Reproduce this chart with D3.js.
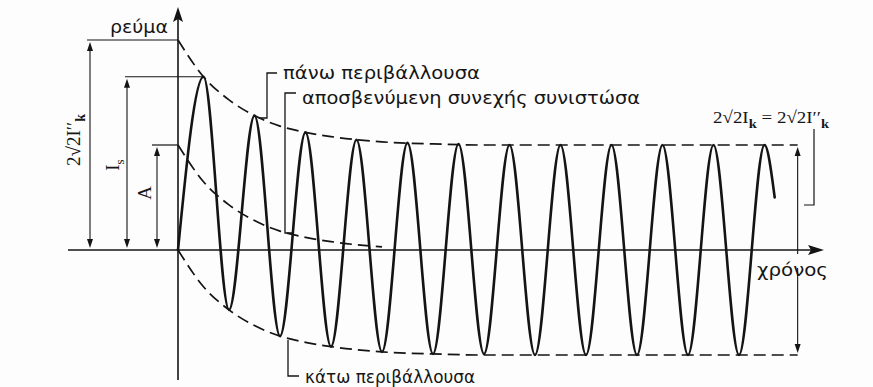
<!DOCTYPE html>
<html>
<head>
<meta charset="utf-8">
<script src="https://cdn.jsdelivr.net/npm/d3@7"></script>
<style>
  html, body { margin: 0; padding: 0; background: #fdfdfd; }
  svg { display: block; }
  text { fill: #161616; }
</style>
</head>
<body>
<svg id="chart" width="873" height="387"></svg>
<script>
// Short-circuit current: time in cycles of the mains period,
// current in units of the AC peak (sqrt2 * I''k = 1).

// Crests and troughs of the current trace
const crestTimes  = [0.5, 1.5, 2.5, 3.5, 4.5, 5.5, 6.5, 7.5, 8.5, 9.5, 10.5, 11.5];
const crestValues = [1.65, 1.28, 1.12, 1.05, 1.02, 1.01, 1.00, 1.00, 1.00, 1.00, 1.00, 1.00];
const troughTimes  = [0, 1, 2, 3, 4, 5, 6, 7, 8, 9, 10, 11];
const troughValues = [0.00, -0.57, -0.82, -0.92, -0.97, -0.99, -0.99, -1.00, -1.00, -1.00, -1.00, -1.00];
const traceEndTime = 11.7;
const traceEndValue = 0.50;

// Upper and lower envelopes
const envTimes  = [0, 0.5, 1, 1.5, 2, 2.5, 3, 4, 5, 6, 8, 10, 12.15];
const upperEnv  = [2.00, 1.65, 1.43, 1.28, 1.18, 1.12, 1.08, 1.03, 1.01, 1.00, 1.00, 1.00, 1.00];
const lowerEnv  = [0.00, -0.35, -0.57, -0.72, -0.82, -0.88, -0.92, -0.97, -0.99, -1.00, -1.00, -1.00, -1.00];

// Decaying DC component
const dcTimes  = [0, 0.5, 1, 1.5, 2, 2.5, 3, 3.5, 4];
const dcValues = [1.00, 0.65, 0.43, 0.28, 0.18, 0.12, 0.08, 0.05, 0.03];

// Marked magnitudes
const peakInitial = 2.00;   // 2*sqrt2*I''k
const peakSurge   = 1.65;   // Is
const dcInitial   = 1.00;   // A
const steadyPeak  = 1.00;   // sqrt2*Ik

const labels = {
  yAxis: "ρεύμα",
  xAxis: "χρόνος",
  upper: "πάνω περιβάλλουσα",
  dc: "αποσβενύμενη συνεχής συνιστώσα",
  lower: "κάτω περιβάλλουσα"
};

const svg = d3.select("#chart");
const ink = "#141414";

const x = d3.scaleLinear().domain([0, 12]).range([178, 790]);
const y = d3.scaleLinear().domain([-1, 2]).range([355, 40]);

const x0 = x(0), y0 = y(0);

// ---- axes ----
svg.append("line").attr("x1", 68).attr("x2", 815).attr("y1", y0).attr("y2", y0)
  .attr("stroke", ink).attr("stroke-width", 1.6);
svg.append("path").attr("d", `M824,${y0} L808,${y0 - 5} L811,${y0} L808,${y0 + 5} Z`).attr("fill", ink);

svg.append("line").attr("x1", x0).attr("x2", x0).attr("y1", 380).attr("y2", 16)
  .attr("stroke", ink).attr("stroke-width", 1.6);
svg.append("path").attr("d", `M${x0},7 L${x0 - 5},22 L${x0},19 L${x0 + 5},22 Z`).attr("fill", ink);

// ---- dashed curves ----
const line = d3.line().x(d => x(d[0])).y(d => y(d[1])).curve(d3.curveMonotoneX);
const dash = "12,6";

svg.append("path").attr("d", line(envTimes.map((t, i) => [t, upperEnv[i]])))
  .attr("fill", "none").attr("stroke", ink).attr("stroke-width", 1.7).attr("stroke-dasharray", dash);
svg.append("path").attr("d", line(envTimes.map((t, i) => [t, lowerEnv[i]])))
  .attr("fill", "none").attr("stroke", ink).attr("stroke-width", 1.7).attr("stroke-dasharray", dash);
svg.append("path").attr("d", line(dcTimes.map((t, i) => [t, dcValues[i]])))
  .attr("fill", "none").attr("stroke", ink).attr("stroke-width", 1.7).attr("stroke-dasharray", dash);

// ---- current trace ----
const tracePts = crestTimes.map((t, i) => [t, crestValues[i]])
  .concat(troughTimes.map((t, i) => [t, troughValues[i]]))
  .sort((a, b) => a[0] - b[0]);
tracePts.push([traceEndTime, traceEndValue]);

svg.append("path").attr("d", line(tracePts))
  .attr("fill", "none").attr("stroke", ink).attr("stroke-width", 2.6)
  .attr("stroke-linejoin", "round").attr("stroke-linecap", "round");

// ---- dimension arrows ----
function arrowHead(px, py, dir) {
  // dir: -1 points up, +1 points down
  svg.append("path")
    .attr("d", `M${px},${py} L${px - 3},${py - dir * 9} L${px + 3},${py - dir * 9} Z`)
    .attr("fill", ink);
}
function dimension(px, v1, v0) {
  const ya = y(v1) + 2, yb = y(v0) - 2;
  svg.append("line").attr("x1", px).attr("x2", px).attr("y1", ya + 4).attr("y2", yb - 4)
    .attr("stroke", ink).attr("stroke-width", 1.1);
  arrowHead(px, ya, -1);
  arrowHead(px, yb, 1);
}
function hline(xa, xb, yy, w) {
  svg.append("line").attr("x1", xa).attr("x2", xb).attr("y1", yy).attr("y2", yy)
    .attr("stroke", ink).attr("stroke-width", w || 1.2);
}

// extension lines
hline(87, x0, y(peakInitial));
hline(125, x(crestTimes[0]), y(peakSurge));
hline(152, x0, y(dcInitial));

dimension(90, peakInitial, 0);
dimension(127, peakSurge, 0);
dimension(157, dcInitial, 0);

// steady-state peak-to-peak arrow on the right
const xr = x(envTimes[envTimes.length - 1]);
svg.append("line").attr("x1", xr).attr("x2", xr).attr("y1", y(steadyPeak) + 8).attr("y2", y0 + 4)
  .attr("stroke", ink).attr("stroke-width", 1.1);
svg.append("line").attr("x1", xr).attr("x2", xr).attr("y1", y0 + 18).attr("y2", y(-steadyPeak) - 8)
  .attr("stroke", ink).attr("stroke-width", 1.1);
arrowHead(xr, y(steadyPeak) + 2, -1);
arrowHead(xr, y(-steadyPeak) - 2, 1);

// bracket for the right-hand label
svg.append("path").attr("d", "M814,129 L814,205 L804,205")
  .attr("fill", "none").attr("stroke", ink).attr("stroke-width", 1.2);

// ---- leaders to the curve labels ----
svg.append("path").attr("d", `M277,73 L267,73 L267,118 L${x(crestTimes[1]) + 4},118`)
  .attr("fill", "none").attr("stroke", ink).attr("stroke-width", 1.3);
svg.append("path").attr("d", `M296,93 L285,93 L285,233 L293,233`)
  .attr("fill", "none").attr("stroke", ink).attr("stroke-width", 1.3);
svg.append("path").attr("d", `M288,340 L288,376 L299,376`)
  .attr("fill", "none").attr("stroke", ink).attr("stroke-width", 1.3);

// ---- text ----
const sans = "'DejaVu Sans', 'Noto Sans', sans-serif";
const serif = "'Liberation Serif', 'DejaVu Serif', serif";

svg.append("text").attr("x", 110).attr("y", 33).attr("font-family", sans).attr("font-size", 17)
  .attr("textLength", 58).attr("lengthAdjust", "spacingAndGlyphs")
  .text(labels.yAxis);
svg.append("text").attr("x", 757).attr("y", 276).attr("font-family", sans).attr("font-size", 17)
  .attr("textLength", 71).attr("lengthAdjust", "spacingAndGlyphs")
  .text(labels.xAxis);
svg.append("text").attr("x", 283).attr("y", 79).attr("font-family", sans).attr("font-size", 17)
  .attr("textLength", 197).attr("lengthAdjust", "spacingAndGlyphs")
  .text(labels.upper);
svg.append("text").attr("x", 302).attr("y", 104).attr("font-family", sans).attr("font-size", 17)
  .attr("textLength", 338).attr("lengthAdjust", "spacingAndGlyphs")
  .text(labels.dc);
svg.append("text").attr("x", 305).attr("y", 383).attr("font-family", sans).attr("font-size", 17)
  .attr("textLength", 170).attr("lengthAdjust", "spacingAndGlyphs")
  .text(labels.lower);

// right-hand formula: 2√2I_k = 2√2I''_k
const f = svg.append("text").attr("x", 713).attr("y", 123).attr("font-family", serif)
  .attr("font-size", 17).attr("textLength", 116).attr("lengthAdjust", "spacingAndGlyphs");
f.append("tspan").text("2√2I");
f.append("tspan").attr("font-size", 13).attr("font-weight", "bold").attr("dy", 5).text("k");
f.append("tspan").attr("dy", -5).text(" = 2√2I′′");
f.append("tspan").attr("font-size", 13).attr("font-weight", "bold").attr("dy", 5).text("k");

// rotated magnitude labels on the left
function rotLabel(cx, cy, build) {
  const t = svg.append("text").attr("transform", `translate(${cx},${cy}) rotate(-90)`)
    .attr("text-anchor", "middle").attr("font-family", serif).attr("font-size", 19);
  build(t);
}
rotLabel(80, 140, t => {
  t.append("tspan").text("2√2I′′");
  t.append("tspan").attr("font-size", 14).attr("font-weight", "bold").attr("dy", 5).text("k");
});
rotLabel(119, 165, t => {
  t.append("tspan").text("I");
  t.append("tspan").attr("font-size", 13).attr("dy", 5).text("s");
});
rotLabel(151, 193, t => {
  t.append("tspan").text("A");
});
</script>
</body>
</html>
